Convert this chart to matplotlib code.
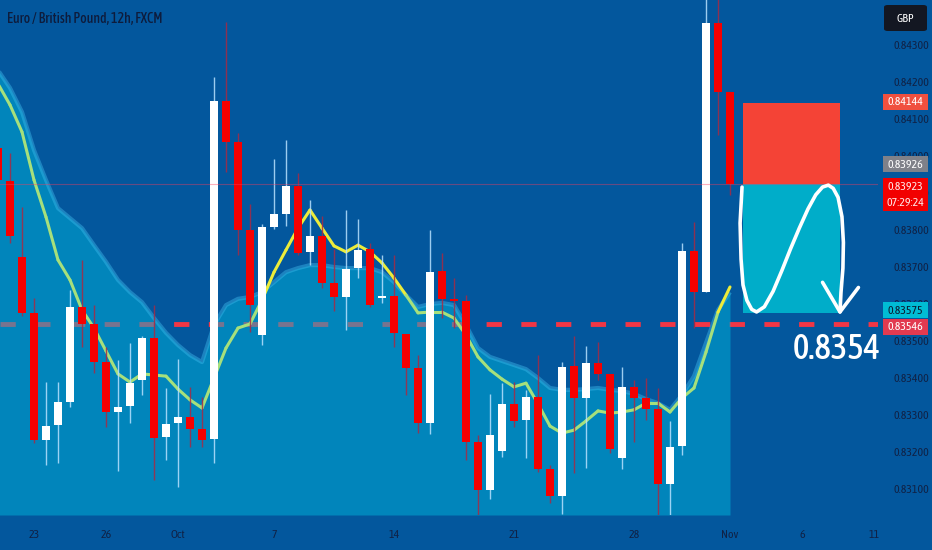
import matplotlib
matplotlib.use("Agg")
import matplotlib.pyplot as plt
import matplotlib.transforms as mtransforms
from matplotlib import font_manager as fm
from matplotlib.patches import Rectangle, FancyBboxPatch
from matplotlib.collections import LineCollection
import numpy as np

# narrow face if there is one, else plain Liberation Sans a bit smaller
try:
    fm.findfont('Asap Condensed', fallback_to_default=False)
    plt.rcParams['font.family'] = ['Asap Condensed', 'DejaVu Sans']
    fs = 1.0
except ValueError:
    plt.rcParams['font.family'] = ['Liberation Sans', 'DejaVu Sans']
    fs = 0.8
plt.rcParams['lines.scale_dashes'] = False

# EUR/GBP 12h candles, index 0 = 23 Sep 00:00 (first one is the 20 Sep 12:00 bar)
first_idx = -1
opens = [0.84022, 0.83932, 0.83727, 0.83576, 0.83232, 0.83273, 0.83335, 0.83592, 0.83546, 0.83443,
         0.83308, 0.83324, 0.83395, 0.83508, 0.83241, 0.83278, 0.83295, 0.83262, 0.83235, 0.84149,
         0.84038, 0.83800, 0.83516, 0.83808, 0.83843, 0.83919, 0.83741, 0.83784, 0.83657, 0.83619,
         0.83697, 0.83749, 0.83616, 0.83622, 0.83519, 0.83427, 0.83278, 0.83689, 0.83614, 0.83608,
         0.83227, 0.83097, 0.83203, 0.83330, 0.83286, 0.83349, 0.83154, 0.83081, 0.83432, 0.83346,
         0.83441, 0.83411, 0.83184, 0.83376, 0.83346, 0.83316, 0.83113, 0.83216, 0.83743, 0.83632,
         0.84359, 0.84173]
highs = [0.84043, 0.84008, 0.83862, 0.83616, 0.83389, 0.83389, 0.83638, 0.83719, 0.83597, 0.83484,
         0.83449, 0.83495, 0.83513, 0.83597, 0.83373, 0.83451, 0.83376, 0.83349, 0.84214, 0.84362,
         0.84062, 0.83870, 0.83816, 0.83992, 0.84043, 0.83954, 0.83881, 0.83838, 0.83749, 0.83854,
         0.83830, 0.83765, 0.83732, 0.83732, 0.83519, 0.83462, 0.83800, 0.83738, 0.83670, 0.83624,
         0.83246, 0.83357, 0.83386, 0.83389, 0.83368, 0.83462, 0.83165, 0.83443, 0.83513, 0.83487,
         0.83497, 0.83411, 0.83430, 0.83395, 0.83400, 0.83373, 0.83284, 0.83765, 0.83822, 0.84435,
         0.84435, 0.84173]
lows = [0.83908, 0.83765, 0.83568, 0.83224, 0.83165, 0.83170, 0.83322, 0.83484, 0.83414, 0.83268,
        0.83149, 0.83278, 0.83354, 0.83124, 0.83178, 0.83105, 0.83214, 0.83214, 0.83170, 0.83957,
        0.83732, 0.83524, 0.83489, 0.83803, 0.83811, 0.83732, 0.83705, 0.83643, 0.83581, 0.83530,
        0.83670, 0.83592, 0.83603, 0.83484, 0.83354, 0.83251, 0.83249, 0.83562, 0.83535, 0.83178,
        0.83030, 0.83073, 0.83186, 0.83268, 0.83184, 0.83146, 0.83062, 0.83032, 0.83143, 0.83157,
        0.83395, 0.83197, 0.83154, 0.83227, 0.83286, 0.83025, 0.83025, 0.83192, 0.83535, 0.83632,
        0.84057, 0.83895]
closes = [0.83935, 0.83784, 0.83576, 0.83232, 0.83270, 0.83335, 0.83592, 0.83546, 0.83443, 0.83308,
          0.83322, 0.83386, 0.83508, 0.83238, 0.83276, 0.83295, 0.83262, 0.83232, 0.84149, 0.84038,
          0.83800, 0.83597, 0.83808, 0.83843, 0.83919, 0.83738, 0.83784, 0.83657, 0.83619, 0.83695,
          0.83746, 0.83597, 0.83622, 0.83522, 0.83427, 0.83278, 0.83686, 0.83614, 0.83608, 0.83227,
          0.83097, 0.83246, 0.83330, 0.83284, 0.83349, 0.83154, 0.83081, 0.83430, 0.83346, 0.83441,
          0.83411, 0.83208, 0.83376, 0.83346, 0.83316, 0.83113, 0.83214, 0.83743, 0.83632, 0.84359,
          0.84173, 0.83923]

# upper edge of the shaded cloud and the moving average
band = [0.84232, 0.84184, 0.84119, 0.84016, 0.83935, 0.83859, 0.83832, 0.83805, 0.83759, 0.83714,
        0.83665, 0.83632, 0.83605, 0.83562, 0.83522, 0.83489, 0.83462, 0.83443, 0.83543, 0.83597,
        0.83614, 0.83619, 0.83632, 0.83659, 0.83686, 0.83697, 0.83705, 0.83705, 0.83700, 0.83697,
        0.83697, 0.83697, 0.83686, 0.83659, 0.83624, 0.83592, 0.83600, 0.83603, 0.83597, 0.83543,
        0.83481, 0.83457, 0.83446, 0.83435, 0.83424, 0.83400, 0.83373, 0.83368, 0.83368, 0.83370,
        0.83373, 0.83368, 0.83365, 0.83357, 0.83343, 0.83332, 0.83314, 0.83354, 0.83405, 0.83495,
        0.83584, 0.83632]
ma = [0.84195, 0.84138, 0.84065, 0.83935, 0.83835, 0.83719, 0.83665, 0.83584, 0.83535, 0.83473,
      0.83411, 0.83389, 0.83411, 0.83408, 0.83405, 0.83370, 0.83341, 0.83319, 0.83400, 0.83481,
      0.83535, 0.83546, 0.83611, 0.83686, 0.83746, 0.83805, 0.83854, 0.83805, 0.83757, 0.83741,
      0.83759, 0.83741, 0.83711, 0.83670, 0.83624, 0.83576, 0.83578, 0.83578, 0.83562, 0.83516,
      0.83457, 0.83422, 0.83397, 0.83376, 0.83386, 0.83330, 0.83270, 0.83251, 0.83259, 0.83284,
      0.83311, 0.83305, 0.83308, 0.83314, 0.83332, 0.83332, 0.83308, 0.83346, 0.83373, 0.83470,
      0.83578, 0.83646]

date_pos = [2, 8, 14, 22, 32, 42, 52, 60, 66, 72]
date_labels = ['23', '26', 'Oct', '7', '14', '21', '28', 'Nov', '6', '11']
price_ticks = [0.831, 0.832, 0.833, 0.834, 0.835, 0.836, 0.837, 0.838, 0.839, 0.840, 0.841, 0.842, 0.843]

last_price = 0.83923
prev_price = 0.83926
stop_price = 0.84144
target_price = 0.83575
level_price = 0.83546
countdown = '07:29:24'

bg = '#03579d'
W, H = 932, 550
plot_w, plot_h = 878, 515
y_lo, y_hi = 0.830297, 0.844216

fig = plt.figure(figsize=(W / 100, H / 100), dpi=100)
fig.patch.set_facecolor(bg)
ax = fig.add_axes([0, (H - plot_h) / H, plot_w / W, plot_h / H])
ax.set_facecolor(bg)
ax.set_xlim(-10 / 12, (plot_w - 10) / 12)
ax.set_ylim(y_lo, y_hi)
ppx = (y_hi - y_lo) / plot_h

x = np.arange(len(opens)) + first_idx
o = np.array(opens); h = np.array(highs); l = np.array(lows); c = np.array(closes)
up = c >= o

# key level + shaded cloud over it
ax.axhline(level_price, color='#f23645', lw=3.5, dashes=(11, 14), zorder=1.5)
ax.fill_between(x, band, y_lo, color=(0.0, 0.70, 0.85), alpha=0.5, lw=0, zorder=2)
ax.plot(x, band, color='#3cb8ea', lw=3, alpha=0.45, zorder=2.1, solid_capstyle='butt')

# moving average, yellow while above the cloud
pts = np.column_stack([x, ma])
segs = np.stack([pts[:-1], pts[1:]], axis=1)
above = np.array(ma) > np.array(band)
seg_cols = ['#ecec3a' if (above[i] or above[i + 1]) else '#a6e07c' for i in range(len(segs))]
ax.add_collection(LineCollection(segs, colors=seg_cols, linewidths=2.2, zorder=3, capstyle='round'))

# candles
wick_cols = np.where(up, '#b8e2ff', '#a82a44')
ax.vlines(x, l, h, colors=wick_cols, lw=1, alpha=0.85, zorder=3.5)
body = np.maximum(np.abs(c - o), 1.6 * ppx)
ax.bar(x, body, bottom=np.minimum(o, c), width=0.68,
       color=np.where(up, '#ffffff', '#f50000'), lw=0, zorder=4)

ax.axhline(last_price, color='#ff3a5a', lw=0.8, alpha=0.4, zorder=5)

# short position tool
bx0, bx1 = (743 - 10) / 12, (840 - 10) / 12
ax.add_patch(Rectangle((bx0, last_price), bx1 - bx0, stop_price - last_price,
                       fc='#f44336', ec='none', zorder=3))
ax.add_patch(Rectangle((bx0, target_price), bx1 - bx0, last_price - target_price,
                       fc='#00adc9', ec='none', zorder=3))

# hand-drawn path inside the box (fractions of the box: u across, v down)
path_u = [-0.01, -0.03, -0.02, 0.0, 0.04, 0.09, 0.14, 0.22, 0.31, 0.40, 0.49, 0.58, 0.67, 0.75,
          0.82, 0.88, 0.93, 0.98, 1.02, 1.035, 1.03, 1.01, 1.0]
path_v = [0.02, 0.30, 0.58, 0.78, 0.90, 0.97, 0.99, 0.95, 0.83, 0.67, 0.5, 0.34, 0.19, 0.08,
          0.02, 0.005, 0.03, 0.1, 0.25, 0.45, 0.65, 0.84, 0.99]
arrow_u = [0.82, 1.0, 1.19]
arrow_v = [0.76, 0.99, 0.8]
def box_xy(u, v):
    u = np.array(u); v = np.array(v)
    return bx0 + u * (bx1 - bx0), last_price - v * (last_price - target_price)
ax.plot(*box_xy(path_u, path_v), color='white', lw=2.6, zorder=6,
        solid_joinstyle='round', solid_capstyle='round')
ax.plot(*box_xy(arrow_u, arrow_v), color='white', lw=2.6, zorder=6,
        solid_joinstyle='round', solid_capstyle='round')

ax.text((837 - 10) / 12, level_price - 25 * ppx, '0.8354', color='white', fontsize=25 * fs,
        ha='center', va='center', zorder=6, fontweight='medium')

# axes
for s in ax.spines.values():
    s.set_visible(False)
ax.yaxis.tick_right()
ax.set_yticks(price_ticks)
ax.set_yticklabels(['%.5f' % p for p in price_ticks])
ax.set_xticks(date_pos)
ax.set_xticklabels(date_labels)
ax.tick_params(axis='y', length=0, pad=11, labelsize=8.5 * fs, labelcolor='#102246')
ax.tick_params(axis='x', length=0, pad=10, labelsize=8.5 * fs, labelcolor='#102246')

# price tags on the scale
trans = mtransforms.blended_transform_factory(fig.transFigure, ax.transData)
def tag(price, lines, fc, tc, dy=0, hpx=16):
    yc = price + dy * ppx
    ax.add_patch(Rectangle((883 / W, yc - hpx / 2 * ppx), 45 / W, hpx * ppx, transform=trans,
                           fc=fc, ec='none', clip_on=False, zorder=7))
    n = len(lines)
    for i, t in enumerate(lines):
        ty = yc + ((n - 1) / 2 - i) * 16 * ppx
        ax.text(905.5 / W, ty, t, transform=trans, ha='center', va='center', color=tc,
                fontsize=8.5 * fs, zorder=8, clip_on=False)

tag(stop_price, ['%.5f' % stop_price], '#f0503f', 'white', dy=1)
tag(prev_price, ['%.5f' % prev_price], '#7f8189', 'white', dy=19)
tag(last_price, ['%.5f' % last_price, countdown], '#f20000', '#ffe8e8', dy=-10, hpx=33)
tag(target_price, ['%.5f' % target_price], '#00bcd4', '#0b1a30', dy=3)
tag(level_price, ['%.5f' % level_price], '#e23a50', 'white', dy=-3)

fig.add_artist(FancyBboxPatch((884 / W, 1 - 31 / H), 43 / W, 26 / H,
                              boxstyle='round,pad=0,rounding_size=0.004',
                              transform=fig.transFigure, fc='#131722', ec='none'))
fig.text(905.5 / W, 1 - 18 / H, 'GBP', color='white', fontsize=8.5 * fs, ha='center', va='center')

fig.text(7 / W, 1 - 19 / H, 'Euro / British Pound, 12h, FXCM', color='#0e1c3c',
         fontsize=10 * fs, ha='left', va='center', fontweight='medium')

fig.savefig('out.png', dpi=100, facecolor=bg)
